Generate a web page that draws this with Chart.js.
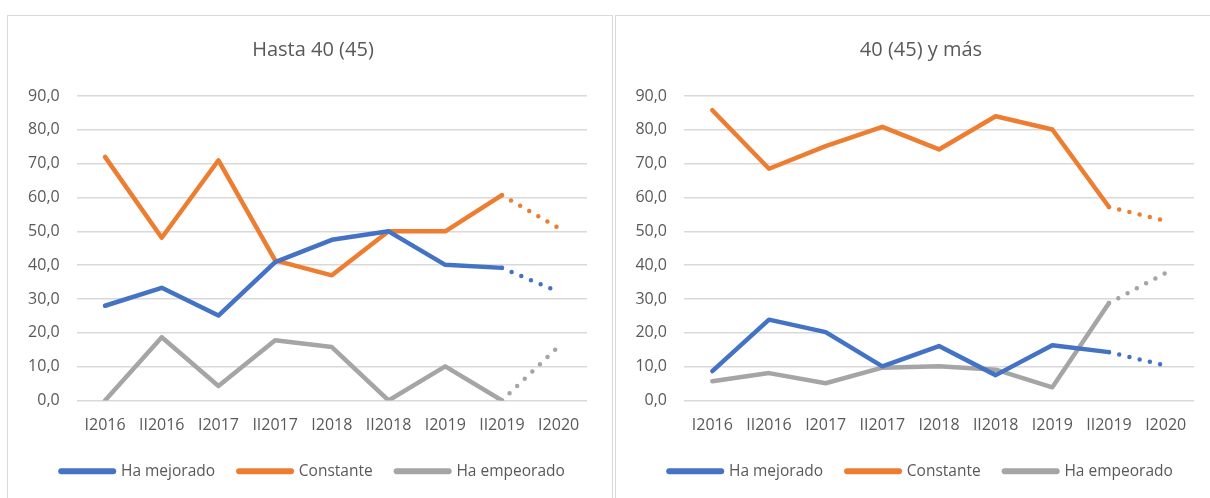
<!DOCTYPE html>
<html>
<head>
<meta charset="utf-8">
<script src="https://cdn.jsdelivr.net/npm/chart.js@4.4.0/dist/chart.umd.min.js"></script>
<style>
    body { margin: 0; background: #fff; width: 1210px; height: 498px; overflow: hidden; position: relative; }
    .box { position: absolute; top: 15px; height: 500px; border: 1px solid #d9d9d9; }
    #boxLeft { left: 7px; width: 604px; }
    #boxRight { left: 615px; width: 604px; }
    canvas { display: block; }
</style>
</head>
<body>
<div class="box" id="boxLeft"><canvas id="chartLeft" width="604" height="482"></canvas></div>
<div class="box" id="boxRight"><canvas id="chartRight" width="604" height="482"></canvas></div>
<script>
// 기간 (x축)
const periodos = ['I2016', 'II2016', 'I2017', 'II2017', 'I2018', 'II2018', 'I2019', 'II2019', 'I2020'];

// Hasta 40 (45)
const hasta40Mejorado = [28.0, 33.3, 25.1, 40.9, 47.5, 50.0, 40.1, 39.2, 32.1];
const hasta40Constante = [72.0, 48.1, 71.0, 41.4, 37.0, 50.0, 50.0, 60.7, 51.0];
const hasta40Empeorado = [0.0, 18.7, 4.3, 17.8, 15.8, 0.0, 10.1, 0.0, 16.0];

// 40 (45) y más
const mas40Mejorado = [8.7, 23.9, 20.2, 10.1, 16.1, 7.5, 16.3, 14.3, 10.3];
const mas40Constante = [85.8, 68.5, 75.2, 80.9, 74.2, 84.0, 80.1, 57.2, 53.1];
const mas40Empeorado = [5.7, 8.1, 5.1, 9.7, 10.1, 9.1, 3.9, 28.8, 37.7];

const FONT = "'Open Sans', sans-serif";
const TEXT = '#595959';

// 마지막 구간(II2019 -> I2020)은 점선
const lastIndex = periodos.length - 1;
function serie(label, data, color) {
    return {
        label: label,
        data: data,
        borderColor: color,
        backgroundColor: color,
        borderWidth: 4.5,
        borderCapStyle: 'round',
        borderJoinStyle: 'round',
        pointRadius: 0,
        tension: 0,
        segment: {
            borderDash: ctx => ctx.p1DataIndex === lastIndex ? [0, 10.5] : undefined
        }
    };
}

function makeChart(id, title, mejorado, constante, empeorado, yWidth, rightPad) {
    const ctx = document.getElementById(id).getContext('2d');
    return new Chart(ctx, {
        type: 'line',
        data: {
            labels: periodos,
            datasets: [
                serie('Ha mejorado', mejorado, '#4472C4'),
                serie('Constante', constante, '#ED7D31'),
                serie('Ha empeorado', empeorado, '#A5A5A5')
            ]
        },
        options: {
            responsive: false,
            animation: false,
            layout: { padding: { left: 6, right: 0, top: 0, bottom: 9 } },
            scales: {
                y: {
                    min: 0,
                    max: 90,
                    ticks: {
                        stepSize: 10,
                        color: TEXT,
                        font: { family: FONT, size: 16 },
                        padding: 17,
                        callback: v => v.toFixed(1).replace('.', ',')
                    },
                    grid: { color: '#d9d9d9', lineWidth: 1.5, drawTicks: false },
                    border: { display: false },
                    afterFit: scale => { scale.width = yWidth; }
                },
                x: {
                    offset: true,
                    ticks: {
                        color: TEXT,
                        font: { family: FONT, size: 16 },
                        padding: 15.5,
                        maxRotation: 0,
                        autoSkip: false
                    },
                    grid: { display: false, drawTicks: false },
                    border: { display: false },
                    afterFit: scale => {
                        scale.height = 39;
                        scale.paddingRight = rightPad;
                    }
                }
            },
            plugins: {
                title: {
                    display: true,
                    text: title,
                    color: TEXT,
                    font: { family: FONT, size: 20, weight: 'normal' },
                    padding: { top: 22, bottom: 34 }
                },
                legend: {
                    position: 'bottom',
                    labels: {
                        usePointStyle: true,
                        pointStyle: 'line',
                        pointStyleWidth: 52,
                        padding: 24,
                        color: TEXT,
                        font: { family: FONT, size: 15.5 },
                        generateLabels: chart => {
                            const items = Chart.defaults.plugins.legend.labels.generateLabels(chart);
                            items.forEach(it => { it.lineWidth = 6; it.lineCap = 'round'; });
                            return items;
                        }
                    }
                },
                tooltip: { enabled: false }
            }
        }
    });
}

makeChart('chartLeft', 'Hasta 40 (45)', hasta40Mejorado, hasta40Constante, hasta40Empeorado, 62.7, 25);
makeChart('chartRight', '40 (45) y más', mas40Mejorado, mas40Constante, mas40Empeorado, 62, 26);
</script>
</body>
</html>
